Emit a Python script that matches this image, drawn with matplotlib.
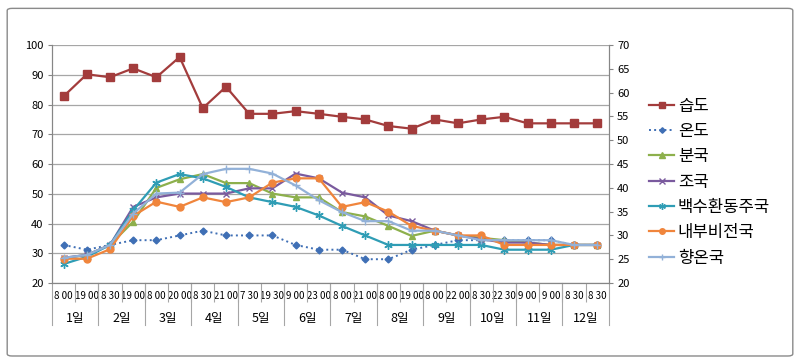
import matplotlib
matplotlib.use("Agg")
import matplotlib.pyplot as plt
import matplotlib.transforms as mtransforms
from matplotlib.patches import FancyBboxPatch

plt.rcParams['font.family'] = ['Noto Sans CJK KR', 'DejaVu Sans']

# category labels (time of day) and day groups
times = ["8 00", "19 00", "8 30", "19 00", "8 00", "20 00", "8 30", "21 00",
         "7 30", "19 30", "9 00", "23 00", "8 00", "21 00", "8 00", "19 00",
         "8 00", "22 00", "8 30", "22 30", "9 00", "9 00", "8 30", "8 30"]
days = ["1일", "2일", "3일", "4일", "5일", "6일", "7일", "8일", "9일", "10일", "11일", "12일"]

# left axis
humidity = [82.8, 90.2, 89.2, 92.2, 89.2, 96.0, 78.8, 86.0, 76.9, 76.9, 77.8, 76.9,
            75.9, 75.0, 72.8, 71.9, 75.0, 73.7, 75.0, 75.9, 73.7, 73.7, 73.7, 73.7]
# right axis
temp = [28, 27, 28, 29, 29, 30, 31, 30, 30, 30, 28, 27,
        27, 25, 25, 27, 28, 29, 29, 29, 29, 29, 28, 28]
bunguk = [25.2, 25.9, 28, 32.9, 40, 41.8, 42.9, 41, 41, 38.8, 38, 38,
          34.9, 34, 32, 29.9, 31, 30, 29.5, 29, 28.5, 28, 28, 28]
joguk = [25.3, 25.9, 28, 36, 38, 38.8, 38.8, 38.8, 39.9, 39.9, 43, 42,
         39, 38, 34.2, 33, 31, 30, 29.2, 28.5, 28.5, 28, 28, 28]
baeksu = [24, 25.5, 28, 35.3, 41.1, 42.9, 42, 40.2, 38, 37, 36, 34.2,
          32, 30, 28, 28, 28, 28, 28, 27, 27, 27, 28, 28]
naebu = [25.1, 25.1, 27.1, 34.1, 37.1, 36, 38, 37, 38, 41.1, 42, 42,
         36, 37, 35, 32, 31, 30, 30, 28, 28, 28, 28, 28]
hyangon = [25.3, 25.9, 28, 34.6, 38.8, 39, 42.9, 44, 44, 43, 40.5, 37.4,
           34.9, 33, 33, 31, 31, 30, 29, 29, 29, 29, 28, 28]

x = list(range(len(times)))

fig = plt.figure(figsize=(8.0, 3.64), dpi=100)
fig.patches.append(FancyBboxPatch((0.009, 0.022), 0.982, 0.955,
                                  boxstyle="round,pad=0,rounding_size=0.006",
                                  transform=fig.transFigure, fill=False,
                                  edgecolor="#8a8a8a", linewidth=1.0))

ax = fig.add_axes([0.065, 0.2225, 0.696, 0.6535])
ax2 = ax.twinx()

grid_c = "#a6a6a6"
ax.set_xlim(-0.5, len(times) - 0.5)
ax.set_ylim(20, 100)
ax.set_yticks(range(20, 101, 10))
ax.grid(axis='y', color=grid_c, linewidth=0.9)
ax.set_axisbelow(True)
ax2.set_ylim(20, 70)
ax2.set_yticks(range(20, 71, 5))

for a in (ax, ax2):
    for s in a.spines.values():
        s.set_color("#868686")
    a.spines['top'].set_visible(False)
    a.tick_params(axis='y', labelsize=8, length=3, color="#868686", pad=3)

h1, = ax.plot(x, humidity, color="#a33c3c", marker='s', markersize=5.5, lw=1.6, label="습도")
h2, = ax2.plot(x, temp, color="#3f6fb5", marker='D', markersize=3.5, lw=1.4, ls=':', label="온도")
h3, = ax2.plot(x, bunguk, color="#8db04c", marker='^', markersize=5, lw=1.6, label="분국")
h4, = ax2.plot(x, joguk, color="#7a5a9e", marker='x', markersize=5, lw=1.6, label="조국")
h5, = ax2.plot(x, baeksu, color="#2f9db5", marker=(6, 2, 0), markersize=6, lw=1.6, label="백수환동주국")
h6, = ax2.plot(x, naebu, color="#f0853c", marker='o', markersize=5, lw=1.6, label="내부비전국")
h7, = ax2.plot(x, hyangon, color="#92b1d8", marker='+', markersize=6, lw=1.6, label="향온국")

# category axis: time labels, small separators, day groups
ax.set_xticks(x)
ax.set_xticklabels(times, fontsize=7)
ax.tick_params(axis='x', length=0, pad=6)
ax.set_xticks([i + 0.5 for i in x[:-1]], minor=True)
ax.tick_params(axis='x', which='minor', length=14, color="#a6a6a6", width=0.8)

trans = mtransforms.blended_transform_factory(ax.transData, ax.transAxes)
for k in range(len(days) + 1):
    xb = 2 * k - 0.5
    ax.plot([xb, xb], [0, -0.175], transform=trans, color="#a6a6a6",
            lw=0.8, clip_on=False)
for k, d in enumerate(days):
    ax.text(2 * k + 0.5, -0.15, d, transform=trans, ha='center', va='center',
            fontsize=9)

fig.legend(handles=[h1, h2, h3, h4, h5, h6, h7], loc='center left',
           bbox_to_anchor=(0.793, 0.5), frameon=False, fontsize=12,
           handlelength=1.5, handletextpad=0.2, labelspacing=0.5,
           markerscale=0.8)

fig.savefig("out.png", dpi=100)
